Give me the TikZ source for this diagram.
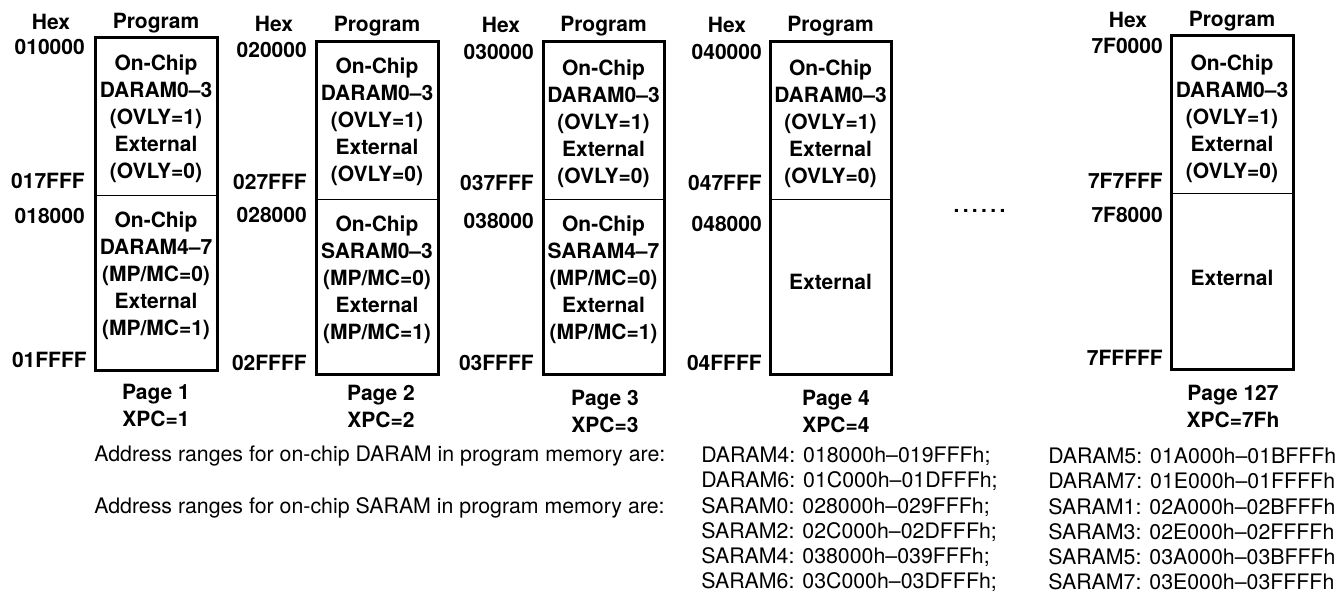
\documentclass[tikz,border=0pt]{standalone}
\usepackage{fontspec}
\setmainfont{TeX Gyre Heros}
\usetikzlibrary{positioning}

\newcommand{\mapfont}{\fontsize{15.75pt}{20.25pt}\selectfont}
\newcommand{\notefont}{\fontsize{16pt}{19pt}\selectfont}

\tikzset{
  heading/.style={font=\mapfont\bfseries, inner sep=0pt},
  hexnum/.style={font=\mapfont\bfseries, inner sep=0pt, anchor=east},
  region/.style={font=\mapfont\bfseries, inner sep=0pt, align=center},
  pagename/.style={font=\mapfont\bfseries, inner sep=0pt, align=center},
  note/.style={font=\notefont, inner sep=0pt, anchor=west},
  memframe/.style={line width=2.25pt},
  split/.style={line width=0.75pt}
}

\begin{document}
\begin{tikzpicture}[x=0.75pt, y=-0.75pt]
\useasboundingbox (0, 0) rectangle (1339, 595);

% page 1
\draw [memframe](95, 37.5) rectangle (217, 370);
\draw [split](95, 196)--(217, 196);
\node [heading] (hex1) at (51, 22) {Hex};
\node [heading] (prog1) at (156, 23) {Program};
\node [hexnum] (a1) at (85, 47) {010000};
\node [hexnum] (b1) at (85, 181) {017FFF};
\node [hexnum] (c1) at (85, 216) {018000};
\node [hexnum] (d1) at (87, 360) {01FFFF};
\node [region] (up1) at (156, 119) {On-Chip\\DARAM0–3\\(OVLY=1)\\External\\(OVLY=0)};
\node [region] (low1) at (156, 276) {On-Chip\\DARAM4–7\\(MP/MC=0)\\External\\(MP/MC=1)};
\node [pagename] (pg1) at (156, 405) {Page 1\\XPC=1};

% page 2
\draw [memframe](316, 41.5) rectangle (438, 374);
\draw [split](316, 199.5)--(438, 199.5);
\node [heading] (hex2) at (274, 24) {Hex};
\node [heading] (prog2) at (377, 26) {Program};
\node [hexnum] (a2) at (307, 50) {020000};
\node [hexnum] (b2) at (307, 182) {027FFF};
\node [hexnum] (c2) at (307, 215) {028000};
\node [hexnum] (d2) at (307, 363) {02FFFF};
\node [region] (up2) at (377, 122) {On-Chip\\DARAM0–3\\(OVLY=1)\\External\\(OVLY=0)};
\node [region] (low2) at (377, 280) {On-Chip\\SARAM0–3\\(MP/MC=0)\\External\\(MP/MC=1)};
\node [pagename] (pg2) at (381, 406) {Page 2\\XPC=2};

% page 3
\draw [memframe](543, 41.5) rectangle (664, 374);
\draw [split](543, 200)--(664, 200);
\node [heading] (hex3) at (501, 25) {Hex};
\node [heading] (prog3) at (603.5, 26) {Program};
\node [hexnum] (a3) at (534, 52) {030000};
\node [hexnum] (b3) at (534, 183) {037FFF};
\node [hexnum] (c3) at (534, 221) {038000};
\node [hexnum] (d3) at (534, 363) {03FFFF};
\node [region] (up3) at (603.5, 124) {On-Chip\\DARAM0–3\\(OVLY=1)\\External\\(OVLY=0)};
\node [region] (low3) at (603.5, 280) {On-Chip\\SARAM4–7\\(MP/MC=0)\\External\\(MP/MC=1)};
\node [pagename] (pg3) at (605, 411) {Page 3\\XPC=3};

% page 4
\draw [memframe](770, 41.5) rectangle (891, 374);
\draw [split](770, 200)--(891, 200);
\node [heading] (hex4) at (727, 25) {Hex};
\node [heading] (prog4) at (830.5, 26) {Program};
\node [hexnum] (a4) at (762, 52) {040000};
\node [hexnum] (b4) at (762, 183) {047FFF};
\node [hexnum] (c4) at (762, 224) {048000};
\node [hexnum] (d4) at (762, 363) {04FFFF};
\node [region] (up4) at (830.5, 124) {On-Chip\\DARAM0–3\\(OVLY=1)\\External\\(OVLY=0)};
\node [region] (low4) at (830.5, 282) {External};
\node [pagename] (pg4) at (836, 411) {Page 4\\XPC=4};

\node [heading] (dots) at (979.5, 211) {.\kern2.5pt.\kern2.5pt.\kern2.5pt.\kern2.5pt.\kern2.5pt.};

% page 127
\draw [memframe](1171, 36) rectangle (1293, 369.5);
\draw [split](1171, 194)--(1293, 194);
\node [heading] (hex127) at (1128, 20) {Hex};
\node [heading] (prog127) at (1232, 21) {Program};
\node [hexnum] (a127) at (1163, 46) {7F0000};
\node [hexnum] (b127) at (1163, 181) {7F7FFF};
\node [hexnum] (c127) at (1163, 215) {7F8000};
\node [hexnum] (d127) at (1163, 358) {7FFFFF};
\node [region] (up127) at (1232, 119) {On-Chip\\DARAM0–3\\(OVLY=1)\\External\\(OVLY=0)};
\node [region] (low127) at (1232, 278) {External};
\node [pagename] (pg127) at (1233, 406) {Page 127\\XPC=7Fh};

% address ranges
\node [note] (darnote) at (94, 456) {Address ranges for on-chip DARAM in program memory are:};
\node [note] (sarnote) at (94, 508) {Address ranges for on-chip SARAM in program memory are:};
\node [note] (r1a) at (701, 456) {DARAM4: 018000h–019FFFh;};
\node [note] (r1b) at (1048, 456) {DARAM5: 01A000h–01BFFFh};
\node [note] (r2a) at (701, 481) {DARAM6: 01C000h–01DFFFh;};
\node [note] (r2b) at (1048, 481) {DARAM7: 01E000h–01FFFFh};
\node [note] (r3a) at (701, 507) {SARAM0: 028000h–029FFFh;};
\node [note] (r3b) at (1048, 507) {SARAM1: 02A000h–02BFFFh};
\node [note] (r4a) at (701, 532) {SARAM2: 02C000h–02DFFFh;};
\node [note] (r4b) at (1048, 532) {SARAM3: 02E000h–02FFFFh};
\node [note] (r5a) at (701, 557) {SARAM4: 038000h–039FFFh;};
\node [note] (r5b) at (1048, 557) {SARAM5: 03A000h–03BFFFh};
\node [note] (r6a) at (701, 582) {SARAM6: 03C000h–03DFFFh;};
\node [note] (r6b) at (1048, 582) {SARAM7: 03E000h–03FFFFh};
\end{tikzpicture}
\end{document}
